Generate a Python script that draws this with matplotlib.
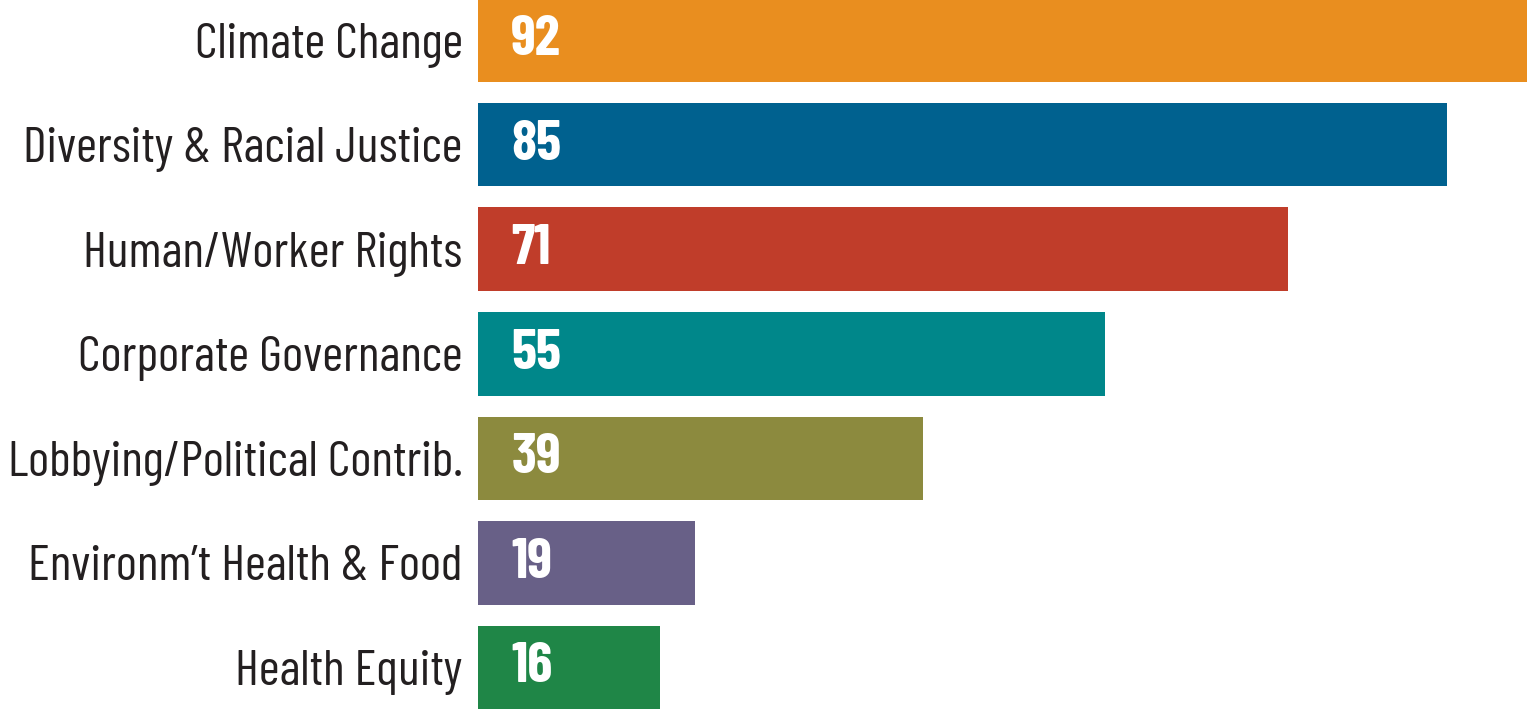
import matplotlib.pyplot as plt

categories = ["Climate Change", "Diversity & Racial Justice", "Human/Worker Rights",
              "Corporate Governance", "Lobbying/Political Contrib.",
              "Environm\u2019t Health & Food", "Health Equity"]
values = [92, 85, 71, 55, 39, 19, 16]
colors = ["#E98E1F", "#00618F", "#C03D2A", "#00878A", "#8C8A3E", "#686087", "#1F8647"]

plt.rcParams['font.family'] = ['Barlow Condensed', 'Fira Sans Extra Condensed',
                               'Roboto Condensed', 'DejaVu Sans']

fig = plt.figure(figsize=(15.27, 7.11), dpi=100)
ax = fig.add_axes([478 / 1527, 0, 1 - 478 / 1527, 1])

pos = list(range(len(categories)))
ax.barh(pos, values, height=0.8, color=colors)
ax.set_xlim(0, 92)
ax.set_ylim(6.416, -0.383)

ax.set_yticks(pos)
ax.set_yticklabels(categories, fontsize=36.5, color="#231F20")
ax.tick_params(axis="y", length=0, pad=11)
ax.set_xticks([])
for s in ax.spines.values():
    s.set_visible(False)

for p, v in zip(pos, values):
    ax.annotate(str(v), (0, p), xytext=(24, 0), textcoords="offset points",
                va="center", ha="left", fontsize=41, fontweight="bold", color="white")

fig.savefig("out.png", dpi=100)
